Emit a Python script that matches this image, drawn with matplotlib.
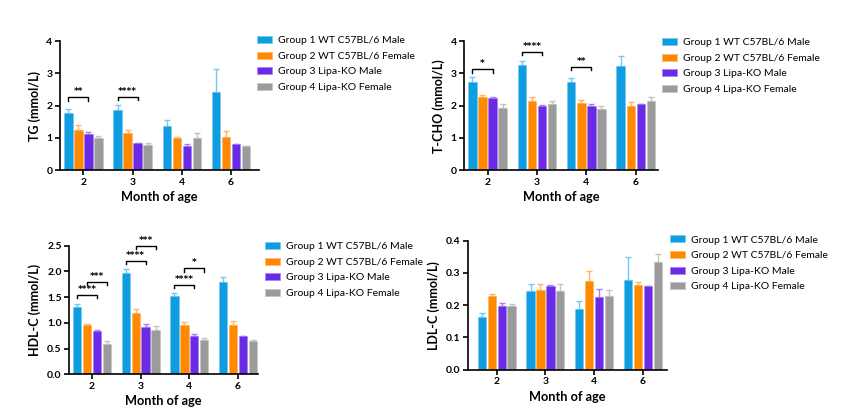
import numpy as np
import matplotlib
matplotlib.use('Agg')
import matplotlib.pyplot as plt

plt.rcParams['font.family'] = ['Lato', 'DejaVu Sans']

# data
months = ['2', '3', '4', '6']
groups = ['Group 1 WT C57BL/6 Male', 'Group 2 WT C57BL/6 Female',
          'Group 3 Lipa-KO Male', 'Group 4 Lipa-KO Female']
colors = ['#0E9DE0', '#FF8A00', '#6B2AE6', '#9B9B9B']
errcolors = ['#74C8F0', '#FFB36A', '#A681F0', '#C4C4C4']

# rows = groups, cols = months
tg_mean = [[1.77, 1.87, 1.37, 2.42],
           [1.25, 1.14, 0.99, 1.03],
           [1.11, 0.83, 0.76, 0.81],
           [1.00, 0.78, 1.00, 0.74]]
tg_err = [[0.13, 0.14, 0.17, 0.71],
          [0.14, 0.10, 0.03, 0.17],
          [0.06, 0.01, 0.05, 0.0],
          [0.05, 0.05, 0.14, 0.01]]

tc_mean = [[2.74, 3.26, 2.74, 3.23],
           [2.27, 2.15, 2.08, 1.98],
           [2.23, 1.98, 1.98, 2.05],
           [1.93, 2.05, 1.90, 2.15]]
tc_err = [[0.14, 0.12, 0.11, 0.30],
          [0.06, 0.12, 0.10, 0.12],
          [0.04, 0.03, 0.07, 0.0],
          [0.11, 0.10, 0.09, 0.12]]

hdl_mean = [[1.31, 1.97, 1.52, 1.79],
            [0.95, 1.19, 0.96, 0.95],
            [0.84, 0.92, 0.75, 0.75],
            [0.58, 0.86, 0.67, 0.65]]
hdl_err = [[0.06, 0.07, 0.07, 0.11],
           [0.03, 0.08, 0.05, 0.08],
           [0.03, 0.05, 0.03, 0.0],
           [0.06, 0.07, 0.04, 0.01]]

ldl_mean = [[0.164, 0.244, 0.188, 0.279],
            [0.228, 0.247, 0.275, 0.263],
            [0.197, 0.258, 0.225, 0.259],
            [0.197, 0.244, 0.227, 0.334]]
ldl_err = [[0.011, 0.021, 0.024, 0.069],
           [0.008, 0.018, 0.030, 0.008],
           [0.009, 0.006, 0.024, 0.0],
           [0.008, 0.021, 0.019, 0.024]]

# significance brackets: (month index, group a, group b, height, label)
tg_sig = [(0, 0, 2, 2.26, '**'), (1, 0, 2, 2.27, '****')]
tc_sig = [(0, 0, 2, 3.13, '*'), (1, 0, 2, 3.66, '****'), (2, 0, 2, 3.20, '**')]
hdl_sig = [(0, 0, 2, 1.55, '****'), (0, 1, 3, 1.80, '***'),
           (1, 0, 2, 2.20, '****'), (1, 1, 3, 2.50, '***'),
           (2, 0, 2, 1.74, '****'), (2, 1, 3, 2.06, '*')]
ldl_sig = []

pitch = 0.204
width = 0.17

fig = plt.figure(figsize=(8.5, 4.19), dpi=100)

def px(x0, y0, x1, y1):
    return [x0 / 850, 1 - y1 / 419, (x1 - x0) / 850, (y1 - y0) / 419]

def panel(rect, mean, err, sig, ylabel, ylim, yticks, ytlabels, xlim, legpos):
    ax = fig.add_axes(rect)
    x = np.arange(len(months))
    for g in range(4):
        xs = x + (g - 1.5) * pitch
        ax.bar(xs, mean[g], width, color=colors[g], edgecolor=errcolors[g],
               linewidth=0.5, label=groups[g], zorder=2)
        ax.errorbar(xs, mean[g], yerr=[np.zeros(4), err[g]], fmt='none',
                    ecolor=errcolors[g], elinewidth=1.0, capsize=2.5,
                    capthick=1.0, zorder=1)
    tip = (ylim[1] - ylim[0]) * 0.025
    for m, a, b, h, lab in sig:
        xa = x[m] + (a - 1.5) * pitch
        xb = x[m] + (b - 1.5) * pitch
        ax.plot([xa, xa, xb, xb], [h - tip, h, h, h - tip], color='black',
                linewidth=1.0, clip_on=False)
        ax.text((xa + xb) / 2, h + tip * 0.3, lab, ha='center', va='bottom',
                fontsize=6.5, fontweight='bold', family=['DejaVu Sans'],
                clip_on=False)
    ax.set_xlim(xlim)
    ax.set_ylim(ylim)
    ax.set_yticks(yticks)
    ax.set_yticklabels(ytlabels)
    ax.set_xticks(x)
    ax.set_xticklabels(months)
    for lab in ax.get_xticklabels() + ax.get_yticklabels():
        lab.set_fontweight('bold')
        lab.set_fontsize(7.5)
    ax.spines['top'].set_visible(False)
    ax.spines['right'].set_visible(False)
    ax.spines['left'].set_linewidth(1.2)
    ax.spines['bottom'].set_linewidth(1.2)
    ax.tick_params(width=1.2, length=3.5, pad=2)
    ax.set_ylabel(ylabel, fontsize=9, fontweight='bold', labelpad=4)
    ax.set_xlabel('Month of age', fontsize=9.2, fontweight='bold', labelpad=3)
    ax.legend(loc='upper left', bbox_to_anchor=(legpos[0] / 850, 1 - legpos[1] / 419),
              bbox_transform=fig.transFigure, frameon=False, fontsize=7.5,
              handlelength=1.45, handleheight=0.65, handletextpad=0.6,
              labelspacing=0.62, borderpad=0, borderaxespad=0)
    return ax

panel(px(60, 41.3, 259, 170), tg_mean, tg_err, tg_sig, 'TG (mmol/L)',
      (0, 4), [0, 1, 2, 3, 4], ['0', '1', '2', '3', '4'], (-0.476, 3.57), (257, 36))
panel(px(464.3, 41.3, 658, 170), tc_mean, tc_err, tc_sig, 'T-CHO (mmol/L)',
      (0, 4), [0, 1, 2, 3, 4], ['0', '1', '2', '3', '4'], (-0.47, 3.45), (661.7, 38))
panel(px(69.3, 245.7, 258, 374.3), hdl_mean, hdl_err, hdl_sig, 'HDL-C (mmol/L)',
      (0, 2.5), [0, 0.5, 1.0, 1.5, 2.0, 2.5], ['0.0', '0.5', '1.0', '1.5', '2.0', '2.5'],
      (-0.466, 3.41), (265, 242))
panel(px(468.3, 240.7, 666.7, 369.7), ldl_mean, ldl_err, ldl_sig, 'LDL-C (mmol/L)',
      (0, 0.4), [0, 0.1, 0.2, 0.3, 0.4], ['0.0', '0.1', '0.2', '0.3', '0.4'],
      (-0.583, 3.49), (670, 235.5))

fig.savefig('out.png', dpi=100)
